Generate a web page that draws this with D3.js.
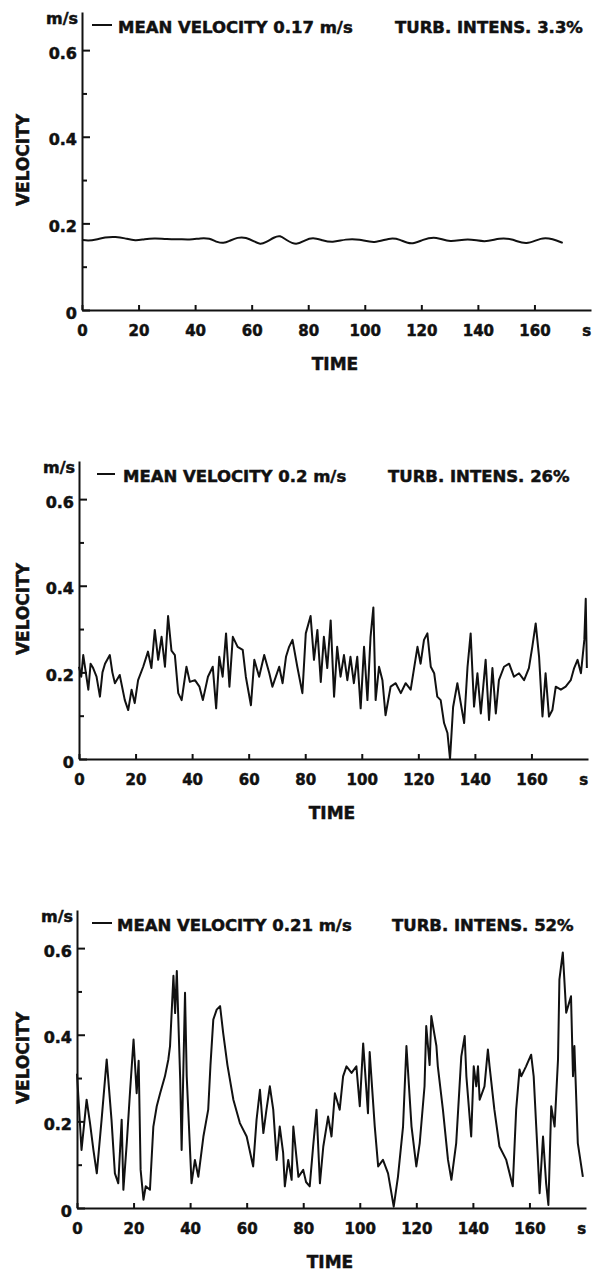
<!DOCTYPE html>
<html>
<head>
<meta charset="utf-8">
<script src="https://cdn.jsdelivr.net/npm/d3@7"></script>
<style>
    body { margin: 0; background: #fff; }
    text { font-family: "DejaVu Sans", sans-serif; font-weight: bold; fill: #111; stroke: #111; stroke-width: 0.5px; }
</style>
</head>
<body>
<div id="chart"></div>
<script>
// [time s, velocity m/s]
let trace1 = [[0,0.162],[2,0.160],[5,0.162],[8,0.168],[12,0.169],[15,0.166],[19,0.159],[22,0.164],[26,0.166],[30,0.163],
    [34,0.164],[38,0.162],[42,0.166],[45,0.166],[48,0.156],[50,0.154],[52,0.159],[55,0.168],[58,0.168],[61,0.158],
    [63,0.151],[65,0.156],[68,0.168],[70,0.173],[72.3,0.161],[75.8,0.149],[78.8,0.161],[81.6,0.168],[85,0.161],[88.5,0.155],
    [93.3,0.164],[98,0.164],[103.4,0.153],[108.7,0.167],[112.3,0.164],[116.4,0.149],[120.5,0.163],[125.3,0.170],[130,0.155],[136.5,0.167],
    [142.4,0.155],[147.7,0.167],[152.4,0.164],[157.1,0.149],[162.4,0.168],[166.5,0.164],[170,0.155]];

let trace2 = [[0,0.213],[0.8,0.19],[1.5,0.24],[2.4,0.2],[3.3,0.16],[4.1,0.22],[5,0.21],[6.2,0.19],[7.4,0.144],[8.3,0.2],[9.2,0.22],[10.9,0.24],[11.8,0.2],[12.7,0.175],[14.4,0.194],[16.2,0.136],
    [17.4,0.113],[18.6,0.16],[19.7,0.129],[20.9,0.182],[22.7,0.213],[24.4,0.248],[25.6,0.21],[26.8,0.298],[28,0.229],[29.2,0.282],
    [30.4,0.213],[31.5,0.33],[32.7,0.25],[33.9,0.24],[35.1,0.152],[36.3,0.136],[38,0.213],[39.2,0.178],[41,0.182],[42.6,0.167],
    [43.8,0.136],[45.6,0.19],[47.3,0.213],[48.5,0.117],[49.6,0.236],[50.8,0.19],[52,0.29],[53.2,0.167],[54.4,0.282],[56.1,0.259],
    [57.9,0.252],[59,0.19],[60.8,0.124],[62,0.229],[63.7,0.19],[65.5,0.24],[67.3,0.198],[68.4,0.167],[70.8,0.213],[72,0.175],
    [73.2,0.236],[74.3,0.259],[75.5,0.275],[77.2,0.213],[79,0.152],[80.2,0.29],[81.9,0.33],[83.1,0.229],[84.3,0.298],[85.5,0.178],
    [86.6,0.282],[87.8,0.21],[89,0.32],[90.2,0.144],[91.3,0.259],[92.5,0.19],[93.7,0.24],[94.9,0.182],[96,0.236],[97.2,0.175],
    [98.4,0.236],[99.6,0.117],[100.8,0.259],[102,0.136],[103.1,0.282],[104.1,0.35],[104.9,0.136],[106.1,0.213],[107.3,0.182],[108.4,0.101],
    [110.2,0.167],[112,0.175],[113.8,0.152],[115.5,0.175],[117.3,0.16],[118.5,0.21],[119.7,0.259],[120.8,0.22],[122,0.275],[123.2,0.29],
    [124.4,0.213],[125.6,0.198],[126.7,0.144],[127.9,0.136],[129.1,0.083],[130.3,0.06],[131.2,0.0],[132.3,0.12],[133.8,0.175],[135,0.129],
    [136.2,0.083],[137.4,0.213],[138.5,0.29],[139.7,0.121],[140.9,0.198],[142.1,0.105],[143.8,0.229],[145,0.09],[146.2,0.21],[147.4,0.105],
    [148.5,0.182],[150.3,0.213],[152.1,0.22],[153.8,0.19],[155.6,0.198],[157.4,0.182],[159.1,0.21],[160.3,0.259],[161.5,0.313],[162.7,0.236],
    [163.9,0.098],[165,0.198],[166.2,0.098],[167.4,0.113],[168.6,0.167],[170.4,0.16],[172.1,0.167],[173.9,0.182],[175.1,0.21],[176.3,0.229],
    [177.5,0.198],[178.7,0.275],[179.2,0.37],[179.6,0.21]];

let trace3 = [[0,0.31],[1.6,0.134],[3.4,0.25],[4.6,0.196],[5.8,0.134],[7,0.08],[8.7,0.204],[10.5,0.343],[12.2,0.204],[13.4,0.08],
    [14.6,0.057],[15.8,0.204],[16.4,0.042],[17.6,0.15],[18.8,0.273],[20,0.389],[21.1,0.265],[21.8,0.34],[22.5,0.088],[23.5,0.019],
    [24.3,0.05],[25.8,0.042],[27,0.188],[28.2,0.235],[29.4,0.265],[31.1,0.304],[32.3,0.343],[32.9,0.374],[34.1,0.536],[34.7,0.45],
    [35.3,0.547],[36,0.40],[36.5,0.296],[37,0.134],[38.2,0.497],[38.8,0.304],[40.5,0.057],[41.7,0.111],[42.9,0.072],[44.7,0.165],
    [46.4,0.227],[47.2,0.33],[48.2,0.435],[49.4,0.458],[50.6,0.466],[51.7,0.404],[53.2,0.33],[55.3,0.25],[57.6,0.196],[60,0.165],
    [62.3,0.096],[63.5,0.204],[64.7,0.273],[65.9,0.173],[67,0.227],[68.2,0.281],[69.4,0.227],[70.6,0.111],[71.7,0.188],[72.9,0.127],
    [73.5,0.05],[74.7,0.111],[75.9,0.065],[76.5,0.188],[77.1,0.15],[78.3,0.072],[80,0.088],[81,0.06],[82.3,0.05],[83.5,0.142],
    [84.7,0.227],[85.9,0.057],[87.1,0.142],[88.8,0.211],[90,0.165],[91.2,0.265],[92.9,0.227],[94.1,0.304],[95.3,0.327],[97.1,0.312],
    [98.8,0.327],[100,0.235],[101.2,0.38],[102.9,0.219],[103.5,0.36],[105.3,0.188],[106.5,0.096],[108.2,0.111],[110,0.08],[112,0.003],
    [113.5,0.072],[115.3,0.188],[116.5,0.374],[118.3,0.188],[120,0.096],[121.2,0.15],[122.9,0.281],[123.5,0.42],[124.7,0.33],[125.3,0.443],
    [127.1,0.374],[127.6,0.327],[129.4,0.227],[131.2,0.111],[132.4,0.065],[134.1,0.15],[135.9,0.35],[137.1,0.397],[137.7,0.304],[139.4,0.165],
    [140.3,0.327],[141.2,0.281],[141.8,0.327],[142.4,0.25],[144.1,0.281],[145.3,0.366],[145.9,0.327],[147.6,0.227],[149.4,0.142],[151.8,0.111],
    [154.1,0.05],[155.3,0.227],[156.5,0.32],[157.1,0.304],[158.8,0.327],[160.6,0.354],[161.5,0.304],[162.4,0.188],[163.6,0.034],[164.8,0.165],
    [165.9,0.057],[166.7,0.007],[167.7,0.235],[168.9,0.188],[170.1,0.343],[170.6,0.528],[171.8,0.59],[173,0.451],[174.7,0.489],[175.4,0.304],
    [175.9,0.374],[177.1,0.15],[178.9,0.072]];

let meanLabels = ["MEAN VELOCITY 0.17 m/s", "MEAN VELOCITY 0.2 m/s", "MEAN VELOCITY 0.21 m/s"];
let turbLabels = ["TURB. INTENS. 3.3%", "TURB. INTENS. 26%", "TURB. INTENS. 52%"];
let xTicks = [0, 20, 40, 60, 80, 100, 120, 140, 160];
let yTicks = [0, 0.2, 0.4, 0.6];
let yMinorTicks = [0.1, 0.3, 0.5];

// layout of each panel (axis origin, legend positions)
let panels = [
    {trace: trace1, ox: 82, oy: 310, dash: [92, 112], meanX: 118, turbX: 395, smooth: true},
    {trace: trace2, ox: 79, oy: 759, dash: [97, 115], meanX: 123, turbX: 388, smooth: false},
    {trace: trace3, ox: 77, oy: 1208, dash: [92, 112], meanX: 117, turbX: 392, smooth: false}
];

let width = 592;
let height = 1276;
let plotW = 509;
let plotH = 298;

let svg = d3.select("#chart")
    .append("svg")
    .attr("width", width)
    .attr("height", height);

svg.append("rect")
    .attr("width", width)
    .attr("height", height)
    .attr("fill", "#fff");

let xScale = d3.scaleLinear().domain([0, 180]).range([0, plotW]);
let yScale = d3.scaleLinear().domain([0, 0.688]).range([plotH, 0]);

panels.forEach(function(p, i) {
    let g = svg.append("g")
        .attr("transform", "translate(" + p.ox + ", " + (p.oy - plotH) + ")");

    // x axis, ticks point up into the plot
    let xAxis = g.append("g")
        .attr("transform", "translate(0, " + plotH + ")")
        .call(d3.axisBottom(xScale)
            .tickValues(xTicks)
            .tickSizeInner(-5)
            .tickSizeOuter(0)
            .tickPadding(15)
            .tickFormat(d3.format("d")));
    xAxis.attr("font-size", 15);

    // y axis
    let yAxis = g.append("g")
        .call(d3.axisLeft(yScale)
            .tickValues(yTicks)
            .tickSizeInner(-8)
            .tickSizeOuter(0)
            .tickPadding(5)
            .tickFormat(d => d === 0 ? "0" : d3.format(".1f")(d)));
    yAxis.attr("font-size", 16);
    yAxis.selectAll("text").attr("dy", "0.5em");

    g.append("g")
        .call(d3.axisLeft(yScale)
            .tickValues(yMinorTicks)
            .tickSize(-5)
            .tickFormat(""))
        .select(".domain").remove();

    g.selectAll(".domain, .tick line")
        .attr("stroke", "#111")
        .attr("stroke-width", 2);

    // velocity trace
    let line = d3.line()
        .x(d => xScale(d[0]))
        .y(d => yScale(d[1]))
        .curve(p.smooth ? d3.curveBasis : d3.curveLinear);

    g.append("path")
        .datum(p.trace)
        .attr("fill", "none")
        .attr("stroke", "#111")
        .attr("stroke-width", 2)
        .attr("stroke-linejoin", "round")
        .attr("d", line);

    // unit labels
    g.append("text")
        .attr("x", -4)
        .attr("y", 12)
        .attr("text-anchor", "end")
        .attr("font-size", 16)
        .text("m/s");

    g.append("text")
        .attr("x", xScale(178.5))
        .attr("y", plotH + 26)
        .attr("text-anchor", "middle")
        .attr("font-size", 15)
        .text("s");

    // legend
    g.append("line")
        .attr("x1", p.dash[0] - p.ox)
        .attr("x2", p.dash[1] - p.ox)
        .attr("y1", 13)
        .attr("y2", 13)
        .attr("stroke", "#111")
        .attr("stroke-width", 2);

    g.append("text")
        .attr("x", p.meanX - p.ox)
        .attr("y", 21)
        .attr("font-size", 16.5)
        .text(meanLabels[i]);

    g.append("text")
        .attr("x", p.turbX - p.ox)
        .attr("y", 21)
        .attr("font-size", 16.5)
        .text(turbLabels[i]);

    // axis titles
    g.append("text")
        .attr("x", 253)
        .attr("y", plotH + 60)
        .attr("text-anchor", "middle")
        .attr("font-size", 17)
        .text("TIME");

    g.append("text")
        .attr("text-anchor", "middle")
        .attr("font-size", 17)
        .attr("transform", "translate(" + (29 - p.ox) + ", " + (plotH - 150) + ") rotate(-90)")
        .text("VELOCITY");
});
</script>
</body>
</html>
